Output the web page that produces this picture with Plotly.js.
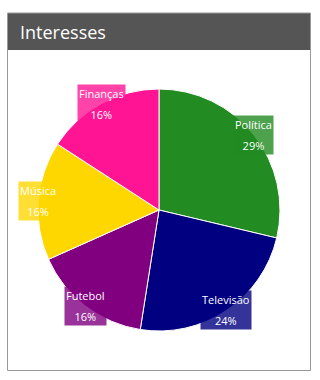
<!DOCTYPE html>
<html>
<head>
<meta charset="utf-8">
<script src="https://cdn.plot.ly/plotly-3.0.1.min.js"></script>
<style>
html,body{margin:0;padding:0;background:#fff;}
#chart{width:320px;height:380px;}
</style>
</head>
<body>
<div id="chart"></div>
<script>
const categories = ["Política", "Televisão", "Futebol", "Música", "Finanças"];
const values = [29, 24, 16, 16, 16];
const percentLabels = ["29%", "24%", "16%", "16%", "16%"];
const colors = ["#228B22", "#000080", "#800080", "#FFD700", "#FF1493"];
const boxColors = ["rgba(34,139,34,0.8)", "rgba(0,0,128,0.8)", "rgba(128,0,128,0.8)", "rgba(255,215,0,0.8)", "rgba(255,20,147,0.8)"];
const chartTitle = "Interesses";

const W = 320, H = 380;
const cxPx = 159, cyPx = 210, rPx = 121;

const total = values.reduce((a, b) => a + b, 0);
let cum = 0;
const annotations = [];
values.forEach((v, i) => {
  const mid = (cum + v / 2) / total * 2 * Math.PI;
  cum += v;
  const px = cxPx + rPx * Math.sin(mid);
  const py = cyPx - rPx * Math.cos(mid);
  annotations.push({
    xref: 'paper', yref: 'paper',
    x: px / W, y: 1 - py / H,
    xanchor: 'center', yanchor: 'middle',
    showarrow: false,
    text: "<span style='font-size:11px'>" + categories[i] + "</span><br><span style='font-size:11px'>" + percentLabels[i] + "</span>",
    font: {family: 'Open Sans, sans-serif', size: 16, color: '#ffffff'},
    bgcolor: boxColors[i],
    borderpad: 1
  });
});

annotations.push({
  xref: 'paper', yref: 'paper', x: 18 / W, y: 1 - 32 / H,
  xanchor: 'left', yanchor: 'middle', showarrow: false,
  text: chartTitle,
  font: {family: 'Open Sans, sans-serif', size: 18, color: '#ffffff'}
});

const trace = {
  type: 'pie',
  labels: categories,
  values: values,
  marker: {colors: colors, line: {color: '#ffffff', width: 1}},
  sort: false,
  direction: 'clockwise',
  rotation: 0,
  textinfo: 'none',
  hoverinfo: 'label+percent',
  showlegend: false,
  domain: {
    x: [(cxPx - rPx) / W, (cxPx + rPx) / W],
    y: [1 - (cyPx + rPx) / H, 1 - (cyPx - rPx) / H]
  }
};

const layout = {
  width: W, height: H,
  margin: {l: 0, r: 0, t: 0, b: 0},
  paper_bgcolor: '#ffffff',
  showlegend: false,
  shapes: [
    {type: 'rect', xref: 'paper', yref: 'paper', x0: 7.5 / W, x1: 310.5 / W, y0: 1 - 370.5 / H, y1: 1 - 13 / H,
     line: {color: '#999999', width: 1}, fillcolor: 'rgba(0,0,0,0)', layer: 'above'},
    {type: 'rect', xref: 'paper', yref: 'paper', x0: 7 / W, x1: 311 / W, y0: 1 - 50 / H, y1: 1 - 13 / H,
     line: {width: 0}, fillcolor: '#555555', layer: 'below'}
  ],
  annotations: annotations
};

Plotly.newPlot('chart', [trace], layout, {displayModeBar: false, staticPlot: true});
</script>
</body>
</html>
